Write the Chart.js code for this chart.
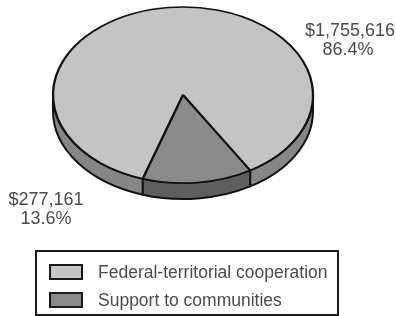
<!DOCTYPE html>
<html>
<head>
<meta charset="utf-8">
<script src="https://cdn.jsdelivr.net/npm/chart.js@4.4.1/dist/chart.umd.min.js"></script>
<style>
  html, body { margin: 0; padding: 0; background: #fff; }
  #wrap { position: relative; width: 396px; height: 316px; overflow: hidden; }
  #legend {
    position: absolute; left: 35px; top: 250px; width: 304px; height: 66px;
    box-sizing: border-box; border: 2px solid #1a1a1a;
    font-family: "Liberation Sans", Arial, sans-serif; font-size: 17.5px; color: #4a4a4a;
  }
  .item { position: absolute; left: 12px; height: 16px; }
  .swatch { position: absolute; left: 0; top: 0; width: 30px; height: 12px; border: 2px solid #1a1a1a; }
  .label { position: absolute; left: 49px; top: -2px; white-space: nowrap; line-height: 20px; }
</style>
</head>
<body>
<div id="wrap">
  <canvas id="pieChart" width="396" height="316"></canvas>
  <div id="legend"></div>
</div>
<script>
const categories = ["Federal-territorial cooperation", "Support to communities"];
const amounts = [1755616, 277161];
const topColors = ["#c4c4c4", "#8b8b8b"];
const sideColors = ["#868686", "#5e5e5e"];

// where the tilted pie sits on the page
const CX = 183, CY = 95, RX = 130, RY = 88, DEPTH = 16;

const total = amounts.reduce((a, b) => a + b, 0);
const money = v => "$" + v.toLocaleString("en-US");
const pct = v => (v / total * 100).toFixed(1) + "%";

// squash the flat pie into an ellipse and draw a rim under it
const tiltPlugin = {
  id: "tilt",
  beforeDatasetsDraw(chart) {
    const ctx = chart.ctx;
    const arcs = chart.getDatasetMeta(0).data;
    const first = arcs[0];

    arcs.forEach((arc, i) => {
      const s = arc.startAngle, e = arc.endAngle;
      for (let k = -1; k <= 2; k++) {
        const lo = Math.max(s, 2 * Math.PI * k);
        const hi = Math.min(e, 2 * Math.PI * k + Math.PI);
        if (hi <= lo) continue;
        ctx.save();
        ctx.beginPath();
        ctx.ellipse(CX, CY, RX, RY, 0, lo, hi);
        ctx.ellipse(CX, CY + DEPTH, RX, RY, 0, hi, lo, true);
        ctx.closePath();
        ctx.fillStyle = sideColors[i];
        ctx.fill();
        ctx.lineWidth = 2;
        ctx.strokeStyle = "#111";
        ctx.stroke();
        ctx.restore();
      }
    });

    ctx.save();
    ctx.translate(CX, CY);
    ctx.scale(RX / first.outerRadius, RY / first.outerRadius);
    ctx.translate(-first.x, -first.y);
  },
  afterDatasetsDraw(chart) {
    chart.ctx.restore();
  },
  afterDraw(chart) {
    const ctx = chart.ctx;
    ctx.save();
    ctx.font = '18px "Liberation Sans", Arial, sans-serif';
    ctx.fillStyle = "#4a4a4a";
    ctx.textAlign = "center";
    ctx.textBaseline = "middle";
    ctx.fillText(money(amounts[0]), 350, 31);
    ctx.fillText(pct(amounts[0]), 348, 50);
    ctx.fillText(money(amounts[1]), 46, 200);
    ctx.fillText(pct(amounts[1]), 46, 219);
    ctx.restore();
  }
};

new Chart(document.getElementById("pieChart"), {
  type: "pie",
  data: {
    labels: categories,
    datasets: [{
      data: amounts,
      backgroundColor: topColors,
      borderColor: "#111",
      borderWidth: 2.8,
      clip: false
    }]
  },
  options: {
    responsive: false,
    animation: false,
    rotation: -162,
    plugins: {
      legend: { display: false },
      tooltip: { enabled: false }
    }
  },
  plugins: [tiltPlugin]
});

// legend box under the pie
const legend = document.getElementById("legend");
categories.forEach((name, i) => {
  const row = document.createElement("div");
  row.className = "item";
  row.style.top = (12 + i * 28) + "px";
  row.innerHTML = '<div class="swatch" style="background:' + topColors[i] + '"></div>' +
                  '<div class="label">' + name + '</div>';
  legend.appendChild(row);
});
</script>
</body>
</html>
